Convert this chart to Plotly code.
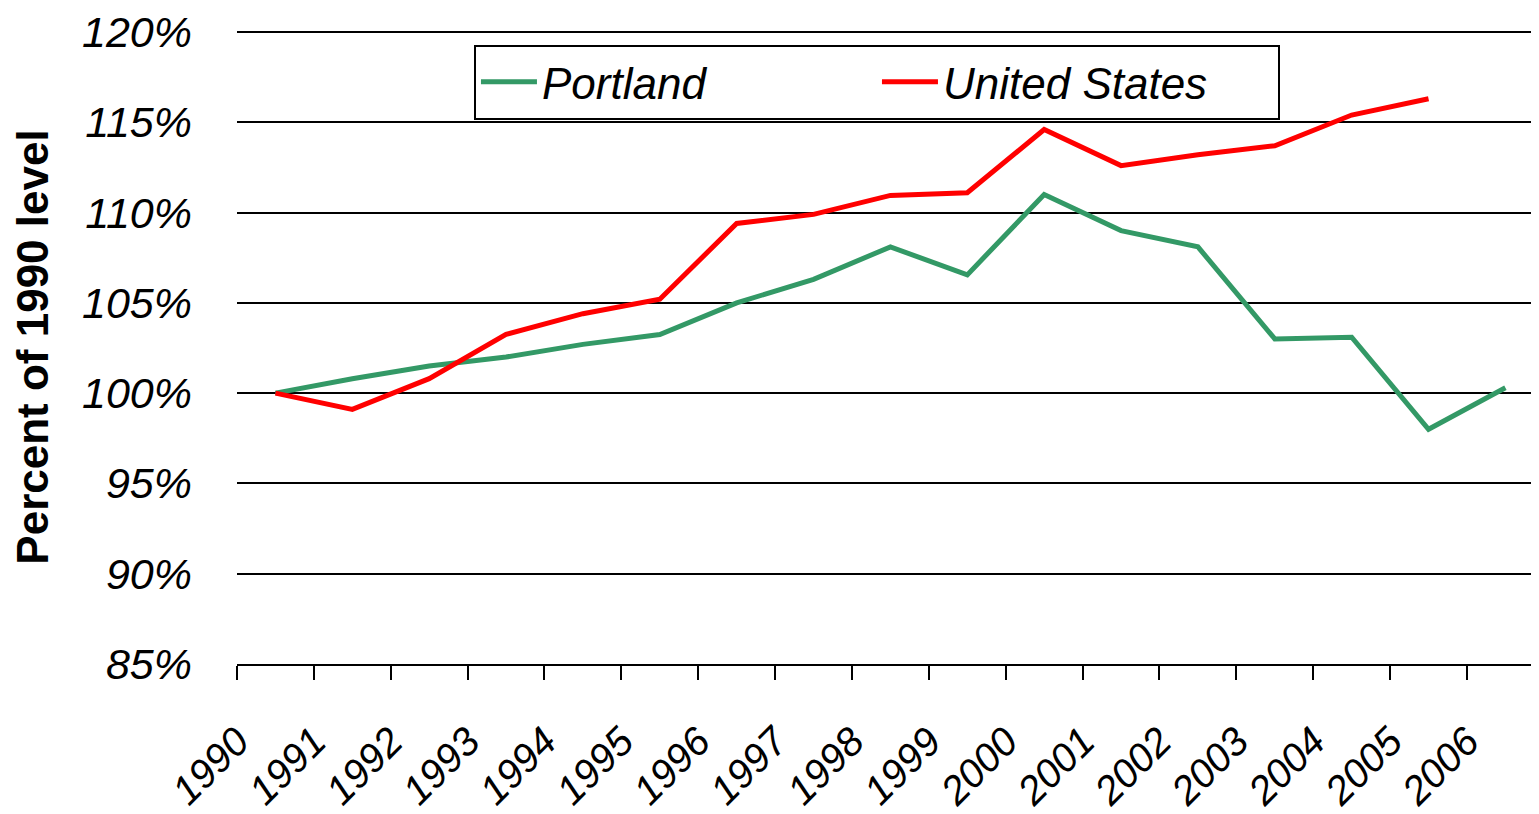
import plotly.graph_objects as go

years = [str(y) for y in range(1990, 2007)]
portland = [100.0, 100.8, 101.5, 102.0, 102.7, 103.25, 105.0, 106.3, 108.1, 106.55,
            111.0, 109.0, 108.1, 103.0, 103.1, 98.0, 100.3]
united_states = [100.0, 99.1, 100.8, 103.25, 104.4, 105.2, 109.4, 109.9, 110.95, 111.1,
                 114.6, 112.6, 113.2, 113.7, 115.4, 116.3, None]
y_ticks = [85, 90, 95, 100, 105, 110, 115, 120]
y_labels = [f"{v}%" for v in y_ticks]

fig = go.Figure()
fig.add_trace(go.Scatter(x=years, y=portland, mode="lines", name="Portland",
                         line=dict(color="#339966", width=5)))
fig.add_trace(go.Scatter(x=years, y=united_states, mode="lines", name="United States",
                         line=dict(color="#FF0000", width=5)))

# the page body has an 8px margin, so the figure is sized and margined to compensate
fig.update_layout(
    width=1531, height=806,
    margin=dict(l=229, r=0, t=18, b=150),
    paper_bgcolor="white", plot_bgcolor="white",
    font=dict(family="Liberation Sans, Arial, sans-serif", color="black"),
    showlegend=True,
    legend=dict(
        orientation="h", x=0.182, xanchor="left", y=0.977, yanchor="top",
        bordercolor="black", borderwidth=2, bgcolor="white",
        entrywidth=330, entrywidthmode="pixels", itemwidth=56,
        font=dict(size=44, style="italic"),
        traceorder="normal",
    ),
)

fig.update_xaxes(
    type="category", range=[-0.5, 16.437],
    tickson="boundaries", ticks="outside", ticklen=14, tickwidth=2, tickcolor="black",
    showline=True, linecolor="black", linewidth=2,
    showgrid=False, tickangle=-45,
    tickfont=dict(size=40, style="italic"),
    ticklabelstandoff=36, ticklabelshift=-38,
)

fig.update_yaxes(
    range=[85, 120.11], tickvals=y_ticks, ticktext=y_labels,
    showgrid=True, gridcolor="black", gridwidth=2,
    zeroline=False, showline=False, ticks="",
    tickfont=dict(size=43, style="italic"),
    ticklabelstandoff=44, ticklabeloverflow="allow",
    title=dict(text="Percent of 1990 level", font=dict(size=44, weight="bold"), standoff=26),
)

fig.write_html("out.html")
